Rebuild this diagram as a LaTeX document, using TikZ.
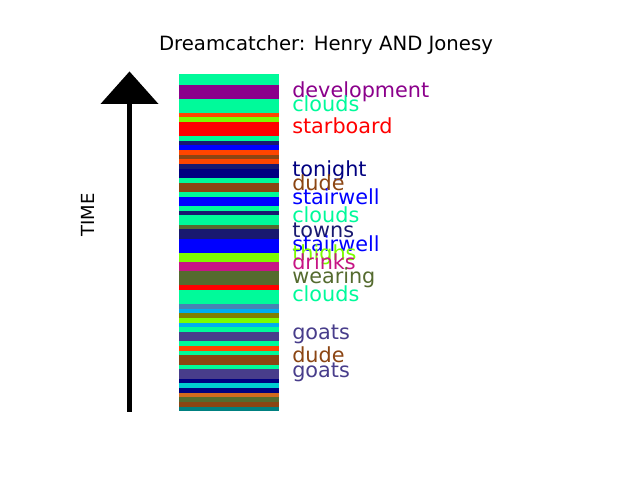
\documentclass[tikz,border=0pt]{standalone}
\usepackage{fontspec}
\setmainfont{DejaVu Sans}
\usepackage{tikz}
\usepackage{xcolor}
\usetikzlibrary{calc}

\definecolor{sprgreen}{HTML}{00FA9A}
\definecolor{dmagenta}{HTML}{8B008B}
\definecolor{ored}{HTML}{FF4500}
\definecolor{lgreen}{HTML}{7CFC00}
\definecolor{mblue}{HTML}{191970}
\definecolor{navyb}{HTML}{000080}
\definecolor{sbrown}{HTML}{8B4513}
\definecolor{dolive}{HTML}{556B2F}
\definecolor{mvred}{HTML}{C71585}
\definecolor{sblue}{HTML}{4682B4}
\definecolor{olivec}{HTML}{808000}
\definecolor{dsblue}{HTML}{483D8B}
\definecolor{dturq}{HTML}{00CED1}
\definecolor{choc}{HTML}{D2691E}
\definecolor{tealc}{HTML}{008080}

\tikzset{lbl/.style={anchor=base west,inner sep=0pt,font=\fontsize{15pt}{18pt}\selectfont}}

\begin{document}
\begin{tikzpicture}[x=0.01in,y=-0.01in]
\useasboundingbox (0,0) rectangle (640,480);

\node[anchor=base,inner sep=0pt,font=\fontsize{14.2pt}{16pt}\selectfont] (title) at (326,51) {Dreamcatcher: Henry AND Jonesy};

% time arrow
\fill[black] (127,412) rectangle (132,104);
\fill[black] (100.5,104) -- (129.5,71.5) -- (158.5,104) -- cycle;
\node[rotate=90,inner sep=0pt,font=\fontsize{13pt}{15pt}\selectfont] (time) at (88,215) {TIME};

% stripes
\foreach \ya/\yb/\col in {74/85/sprgreen, 85/99/dmagenta, 99/113/sprgreen, 113/117/ored,
  117/121.7/lgreen, 121.7/135.7/red, 135.7/140.7/sprgreen, 140.7/145/mblue, 145/150/blue,
  150/155/ored, 155/159/sbrown, 159/164/ored, 164/169/mblue, 169/178/navyb, 178/183/sprgreen,
  183/192/sbrown, 192/197/sprgreen, 197/206/blue, 206/211/sprgreen, 211/215/mblue,
  215/225/sprgreen, 225/229/dolive, 229/239/mblue, 239/253/blue, 253/262/lgreen,
  262/271/mvred, 271/285/dolive, 285/290/red, 290/304/sprgreen, 304/309/sblue,
  309/313/cyan, 313/318/olivec, 318/323/lgreen, 323/327/cyan, 327/332/sprgreen,
  332/341/dsblue, 341/346/sprgreen, 346/351/ored, 351/355/sprgreen, 355/365/sbrown,
  365/369/sprgreen, 369/379/dsblue, 379/383/navyb, 383/388/dturq, 388/393/navyb,
  393/397/choc, 397/402/dolive, 402/407/sbrown, 407/410.7/tealc}
  \fill[\col] (179,\ya) rectangle (279,\yb);

% labels
\node[lbl,dmagenta] (development) at (292,97.5) {development};
\node[lbl,sprgreen] (clouds1) at (292,111.5) {clouds};
\node[lbl,red] (starboard) at (292,134) {starboard};
\node[lbl,navyb] (tonight) at (292,176.5) {tonight};
\node[lbl,sbrown] (dude1) at (292,190.8) {dude};
\node[lbl,blue] (stairwell1) at (292,204.8) {stairwell};
\node[lbl,sprgreen] (clouds2) at (292,223) {clouds};
\node[lbl,mblue] (towns) at (292,237.8) {towns};
\node[lbl,blue] (stairwell2) at (292,251.8) {stairwell};
\node[lbl,lgreen] (thighs) at (292,260.8) {thighs};
\node[lbl,mvred] (drinks) at (292,269.8) {drinks};
\node[lbl,dolive] (wearing) at (292,284) {wearing};
\node[lbl,sprgreen] (clouds3) at (292,302) {clouds};
\node[lbl,dsblue] (goats1) at (292,340) {goats};
\node[lbl,sbrown] (dude2) at (292,363) {dude};
\node[lbl,dsblue] (goats2) at (292,377.5) {goats};
\end{tikzpicture}
\end{document}
